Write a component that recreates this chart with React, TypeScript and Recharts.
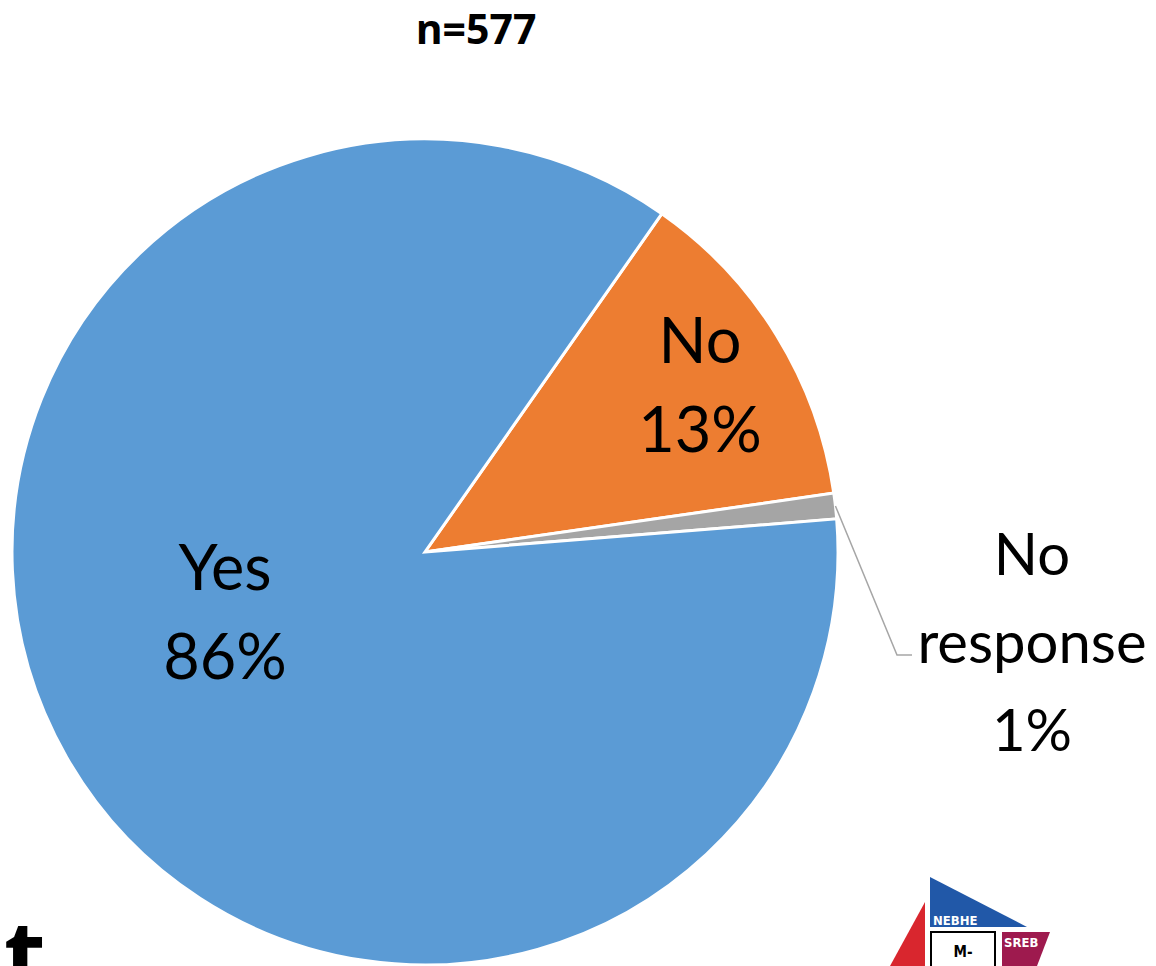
import React from 'react';
import { PieChart, Pie, Cell } from 'recharts';

const categories = ['No', 'No response', 'Yes'];
const percents = [13, 1, 86];
const labelNames = [['No'], ['No', 'response'], ['Yes']];
const colors = ['#ED7D31', '#A5A5A5', '#5B9BD5'];
const title = 'n=577';

const data = categories.map((c, i) => ({ name: c, value: percents[i] }));

// label placement (relative to pie center, px) and style, per slice index
const labelStyle = [
  { dx: 275, dy: -189, fontSize: 63, lh: 89, line: false },
  { dx: 607, dy: 23, fontSize: 58, lh: 88, line: true },
  { dx: -200, dy: 38, fontSize: 63, lh: 89, line: false },
];

const RAD = Math.PI / 180;

const renderLabel = (props: any) => {
  const { cx, cy, midAngle, outerRadius, index } = props;
  const s = labelStyle[index];
  const x = cx + s.dx;
  const y = cy + s.dy;
  const lines = [...labelNames[index], `${percents[index]}%`];
  const ex = cx + outerRadius * Math.cos(-midAngle * RAD);
  const ey = cy + outerRadius * Math.sin(-midAngle * RAD);
  return (
    <g key={`lbl-${index}`}>
      {s.line && (
        <polyline
          points={`${ex},${ey} ${x - 135},${y + 80} ${x - 120},${y + 80}`}
          fill="none"
          stroke="#A6A6A6"
          strokeWidth={1.5}
        />
      )}
      <text
        x={x}
        y={y}
        textAnchor="middle"
        fontFamily="Lato, 'Open Sans', sans-serif"
        fontSize={s.fontSize}
        fill="#000"
      >
        {lines.map((l, k) => (
          <tspan key={k} x={x} dy={k === 0 ? 0 : s.lh}>
            {l}
          </tspan>
        ))}
      </text>
    </g>
  );
};

export default function App() {
  return (
    <div style={{ position: 'absolute', left: 0, top: 0, width: 1156, height: 966, background: '#fff', overflow: 'hidden' }}>
      <PieChart width={1156} height={966} margin={{ top: 0, right: 0, bottom: 0, left: 0 }}>
        <Pie
          data={data}
          dataKey="value"
          nameKey="name"
          cx={425}
          cy={552}
          outerRadius={413}
          startAngle={55}
          endAngle={55 - 360}
          stroke="#fff"
          strokeWidth={3}
          label={renderLabel}
          labelLine={false}
          isAnimationActive={false}
        >
          {data.map((d, i) => (
            <Cell key={d.name} fill={colors[i]} />
          ))}
        </Pie>
      </PieChart>
      <svg width={1156} height={966} style={{ position: 'absolute', left: 0, top: 0, pointerEvents: 'none' }}>
        <text x={476} y={44} textAnchor="middle" fontFamily="'Open Sans', sans-serif" fontWeight={700} fontSize={41} fill="#000">
          {title}
        </text>
        <text x={4} y={990} fontFamily="'Open Sans', sans-serif" fontWeight={700} fontSize={96} fill="#000">
          t
        </text>
        <g>
          <polygon points="930,877 1027,927 930,927" fill="#2158A8" />
          <polygon points="925,902 890,966 925,966" fill="#D9262E" />
          <polygon points="1002,932 1050,932 1037,966 1002,966" fill="#9E1A4E" />
          <rect x={931} y={932} width={64} height={40} fill="#fff" stroke="#000" strokeWidth={2} />
          <text x={933} y={925} fontFamily="'DejaVu Sans Condensed', 'DejaVu Sans', sans-serif" fontWeight={700} fontSize={13} fill="#fff">
            NEBHE
          </text>
          <text x={1004} y={947} fontFamily="'DejaVu Sans Condensed', 'DejaVu Sans', sans-serif" fontWeight={700} fontSize={13} fill="#fff">
            SREB
          </text>
          <text x={963} y={957} textAnchor="middle" fontFamily="'DejaVu Sans Condensed', 'DejaVu Sans', sans-serif" fontWeight={700} fontSize={15} fill="#000">
            M-
          </text>
        </g>
      </svg>
    </div>
  );
}
